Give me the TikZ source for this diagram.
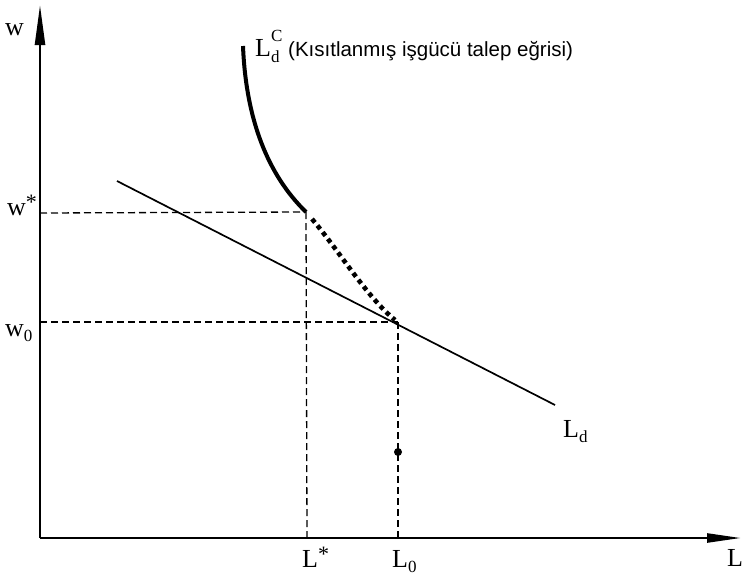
\documentclass[tikz,border=0pt]{standalone}
\usepackage{fontspec}
\setmainfont{Liberation Serif}
\newfontfamily\labsans{Liberation Sans}
\usetikzlibrary{arrows.meta}
\tikzset{
  axis/.style={line width=2.4pt},
  guide/.style={line width=1.3pt, dash pattern=on 7pt off 4pt},
  demand/.style={line width=1.7pt},
  thickcurve/.style={line width=4pt},
  dotcurve/.style={line width=4.6pt, dash pattern=on 4.5pt off 4pt},
  lab/.style={inner sep=0pt, anchor=base west, font=\fontsize{26}{28}\selectfont}
}
\newcommand{\subsz}{\fontsize{17}{18}\selectfont}
\newcommand{\starsz}{\fontsize{22}{22}\selectfont}
\begin{document}
\begin{tikzpicture}[x=1pt,y=-1pt]
\useasboundingbox (0,0) rectangle (742,576);
% axes
\coordinate (O) at (40,538);
\coordinate (ytop) at (40,5);
\coordinate (xend) at (741,538);
\draw[axis,-{Triangle[length=40pt,width=10pt]}] (O) -- (ytop);
\draw[axis,-{Triangle[length=34pt,width=9pt]}] (O) -- (xend);
% key points
\coordinate (A) at (306,212);
\coordinate (B) at (398,322);
\coordinate (wsA) at (40,213);
\coordinate (wsB) at (40,322);
\coordinate (LsA) at (307,538);
\coordinate (LsB) at (398,538);
\coordinate (LdS) at (117,181);
\coordinate (LdE) at (555,405);
\coordinate (Ctop) at (243,46);
% guides
\draw[guide] (wsA) -- (A);
\draw[guide] (wsB) -- (B);
\draw[guide] (A) -- (LsA);
\draw[guide] (B) -- (LsB);
% demand line
\draw[demand] (LdS) -- (LdE);
% constrained curve
\draw[thickcurve] (Ctop) .. controls (246,120) and (268,175) .. (A);
\draw[dotcurve] (312,219) .. controls (340,252) and (366,296) .. (395,320);
% dot
\node[circle, fill=black, inner sep=0pt, minimum size=8pt] (dot) at (398,452) {};
% labels
\node[lab] (lw) at (5,35) {w};
\node[lab] (lws) at (7,215) {w\raisebox{0.2em}{\starsz *}};
\node[lab] (lw0) at (5,336) {w\raisebox{-0.2em}{\subsz 0}};
\node[lab] (lLs) at (302,567) {L\raisebox{0.2em}{\starsz *}};
\node[lab] (lL0) at (392,567) {L\raisebox{-0.2em}{\subsz 0}};
\node[lab] (lL) at (727,566) {L};
\node[lab] (lLd) at (563,437) {L\raisebox{-0.2em}{\subsz d}};
\node[lab] (lLdC) at (255,56) {L\rlap{\raisebox{0.55em}{\subsz C}}\raisebox{-0.25em}{\subsz d}};
\node[inner sep=0pt, anchor=base west, font=\labsans\fontsize{20.5}{22}\selectfont] (desc) at (288,56) {(Kısıtlanmış işgücü talep eğrisi)};
\end{tikzpicture}
\end{document}
